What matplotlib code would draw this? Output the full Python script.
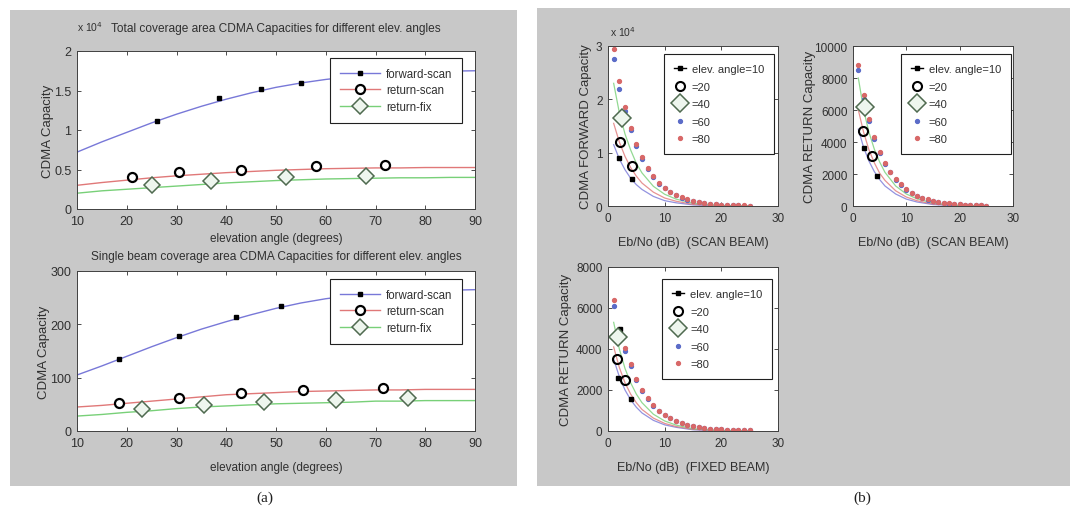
import numpy as np
import matplotlib.pyplot as plt
from matplotlib.patches import Rectangle
from matplotlib.lines import Line2D
from matplotlib.ticker import FuncFormatter

plt.rcParams['font.family'] = ['Liberation Sans', 'DejaVu Sans']

# ---- panel (a): capacity vs elevation angle ----
elev_line = [10, 15, 20, 25, 30, 35, 40, 45, 50, 55, 60, 65, 70, 75, 80, 85, 90]

tot_fwd_line = [7200, 8500, 9700, 10900, 12000, 13000, 13900, 14700, 15400, 15950, 16400, 16750, 17000, 17200, 17350, 17450, 17500]
tot_rsc_line = [3000, 3350, 3650, 3950, 4200, 4400, 4600, 4750, 4900, 5000, 5100, 5150, 5200, 5200, 5250, 5250, 5250]
tot_rfx_line = [2000, 2300, 2500, 2700, 2900, 3100, 3300, 3450, 3600, 3700, 3800, 3850, 3900, 3950, 3950, 4000, 4000]
tot_fwd_mk_x = [26, 38.5, 47, 55]
tot_fwd_mk_y = [11200, 14000, 15200, 16000]
tot_rsc_mk_x = [21, 30.5, 43, 58, 72]
tot_rsc_mk_y = [4000, 4700, 4900, 5400, 5600]
tot_rfx_mk_x = [25, 37, 52, 68]
tot_rfx_mk_y = [3000, 3500, 4000, 4200]

one_fwd_line = [105, 122, 140, 158, 175, 191, 205, 218, 230, 240, 248, 254, 258, 261, 263, 264, 265]
one_rsc_line = [45, 48, 52, 56, 60, 64, 68, 70, 72, 74, 75, 76, 77, 77, 78, 78, 78]
one_rfx_line = [28, 31, 35, 38, 42, 45, 47, 49, 51, 52, 53, 54, 56, 56, 57, 57, 57]
one_fwd_mk_x = [18.5, 30.5, 42, 51]
one_fwd_mk_y = [135, 178, 213, 234]
one_rsc_mk_x = [18.5, 30.5, 43, 55.5, 71.5]
one_rsc_mk_y = [52, 62, 72, 76, 80]
one_rfx_mk_x = [23, 35.5, 47.5, 62, 76.5]
one_rfx_mk_y = [42, 48, 55, 58, 62]

labels_a = ['forward-scan', 'return-scan', 'return-fix']

# ---- panel (b): capacity vs Eb/No ----
ebno = [1, 2, 3, 4, 5, 6, 7, 8, 9, 10, 11, 12, 13, 14, 15, 16, 17, 18, 19, 20, 21, 22, 23, 24, 25]
ebno_line = [1, 2, 3, 4, 5, 6, 8, 10, 12, 15, 20, 25]

fwd_e60 = [27500, 22000, 17800, 14200, 11200, 8800, 6900, 5400, 4200, 3300, 2600, 2000, 1500, 1200, 900, 700, 550, 400, 300, 250, 200, 150, 100, 80, 60]
fwd_e80 = [29500, 23500, 18500, 14700, 11600, 9100, 7100, 5600, 4400, 3400, 2700, 2100, 1600, 1300, 1000, 750, 600, 450, 350, 280, 220, 170, 130, 100, 80]
fwd_l40 = [23000, 17500, 13500, 10500, 8000, 6200, 3700, 2200, 1300, 500, 100, 0]
fwd_l20 = [15500, 12000, 9300, 7200, 5600, 4300, 2600, 1500, 900, 300, 50, 0]
fwd_l10 = [11500, 8800, 6800, 5200, 4000, 3100, 1800, 1000, 600, 200, 0, 0]
fwd_e10_x = [2, 4.2]
fwd_e10_y = [9000, 5000]
fwd_e20_x = [2.2, 4.2]
fwd_e20_y = [12000, 7500]
fwd_e40_x = [2.5]
fwd_e40_y = [16500]

rsc_e60 = [8500, 6700, 5300, 4200, 3300, 2600, 2100, 1650, 1300, 1000, 800, 630, 500, 400, 310, 240, 190, 150, 115, 95, 75, 60, 48, 38, 30]
rsc_e80 = [8800, 6950, 5450, 4300, 3400, 2700, 2150, 1700, 1350, 1050, 830, 650, 520, 410, 320, 250, 200, 160, 120, 100, 80, 60, 50, 40, 30]
rsc_l40 = [8000, 6000, 4600, 3550, 2750, 2100, 1250, 750, 450, 180, 30, 0]
rsc_l20 = [6000, 4600, 3500, 2700, 2050, 1600, 950, 560, 330, 120, 20, 0]
rsc_l10 = [4800, 3650, 2800, 2150, 1650, 1250, 750, 430, 250, 90, 10, 0]
rsc_e10_x = [2, 4.5]
rsc_e10_y = [3600, 1900]
rsc_e20_x = [1.8, 3.6]
rsc_e20_y = [4700, 3100]
rsc_e40_x = [2.2]
rsc_e40_y = [6200]

rfx_e60 = [6100, 4800, 3900, 3150, 2480, 1950, 1560, 1220, 980, 780, 610, 480, 380, 300, 240, 190, 150, 120, 95, 75, 60, 48, 38, 30, 25]
rfx_e80 = [6400, 5000, 4050, 3250, 2550, 2000, 1600, 1250, 1000, 800, 620, 490, 390, 300, 240, 190, 150, 120, 95, 75, 60, 48, 38, 30, 25]
rfx_l40 = [5300, 4000, 3050, 2350, 1800, 1380, 820, 490, 290, 110, 15, 0]
rfx_l20 = [4100, 3100, 2350, 1800, 1380, 1050, 630, 370, 220, 80, 10, 0]
rfx_l10 = [3500, 2650, 2000, 1520, 1160, 880, 520, 300, 180, 60, 5, 0]
rfx_e10_x = [1.8, 2.1, 4]
rfx_e10_y = [2600, 5000, 1550]
rfx_e20_x = [1.5, 3]
rfx_e20_y = [3500, 2500]
rfx_e40_x = [1.8]
rfx_e40_y = [4600]

labels_b = ['elev. angle=10', '=20', '=40', '=60', '=80']

BLUE = '#7878d8'
RED = '#e07878'
GREEN = '#78d078'
DIA_EDGE = '#4f6a50'
DIA_FACE = '#eef6ee'
GRAY = '#c8c8c8'
TXT = '#303030'

fig = plt.figure(figsize=(10.7, 5.1), dpi=100)
fig.patch.set_facecolor('white')

W, H = 1070.0, 510.0
def box(x0, y0, x1, y1):
    return [x0 / W, 1 - y1 / H, (x1 - x0) / W, (y1 - y0) / H]

fig.add_artist(Rectangle((10 / W, 1 - 487 / H), 507 / W, 476 / H,
                         transform=fig.transFigure, facecolor=GRAY, edgecolor='none', zorder=0))
fig.add_artist(Rectangle((537 / W, 1 - 487 / H), 533 / W, 478 / H,
                         transform=fig.transFigure, facecolor=GRAY, edgecolor='none', zorder=0))


def style(ax, size):
    ax.set_facecolor('white')
    ax.tick_params(direction='in', length=3, width=0.6, top=True, right=True,
                   labelsize=size, colors=TXT)
    ax.tick_params(axis='x', pad=4)
    ax.tick_params(axis='y', pad=4)
    for s in ax.spines.values():
        s.set_linewidth(0.7)
        s.set_color('#404040')


def finish_legend(leg):
    leg.get_frame().set_linewidth(0.8)
    for t in leg.get_texts():
        t.set_color(TXT)


def panel_a(ax, fwd, rsc, rfx, fwd_mk, rsc_mk, rfx_mk, ylim, yticks, title, title_y, xpad, leg_anchor, scale):
    style(ax, 9)
    ax.plot(elev_line, fwd, color=BLUE, lw=1)
    ax.plot(elev_line, rsc, color=RED, lw=1)
    ax.plot(elev_line, rfx, color=GREEN, lw=1)
    ax.plot(*fwd_mk, ls='none', marker='s', ms=3.5, mfc='k', mec='k')
    ax.plot(*rsc_mk, ls='none', marker='o', ms=6.5, mfc='white', mec='k', mew=1.6)
    ax.plot(*rfx_mk, ls='none', marker='D', ms=8, mfc=DIA_FACE, mec=DIA_EDGE, mew=1.1)
    ax.set_xlim(10, 90)
    ax.set_ylim(*ylim)
    ax.set_xticks([10, 20, 30, 40, 50, 60, 70, 80, 90])
    ax.set_yticks(yticks)
    if scale:
        ax.yaxis.set_major_formatter(FuncFormatter(lambda v, p: f'{v / scale:g}'))
        ax.text(0.0, 1.125, r'x 10$^4$', transform=ax.transAxes, fontsize=7.5, color=TXT)
    ax.set_title(title, fontsize=8.6, color=TXT, y=title_y)
    ax.set_xlabel('elevation angle (degrees)', fontsize=8.5, color=TXT, labelpad=xpad)
    ax.set_ylabel('CDMA Capacity', fontsize=9.5, color=TXT, labelpad=0.5)
    handles = [
        Line2D([], [], color=BLUE, lw=1, marker='s', ms=3.5, mfc='k', mec='k'),
        Line2D([], [], color=RED, lw=1, marker='o', ms=6.5, mfc='white', mec='k', mew=1.6),
        Line2D([], [], color=GREEN, lw=1, marker='D', ms=8, mfc=DIA_FACE, mec=DIA_EDGE, mew=1.1),
    ]
    leg = ax.legend(handles, labels_a, loc='upper left', bbox_to_anchor=leg_anchor, borderaxespad=0,
                    fontsize=8.3, handlelength=3.5, handletextpad=0.5, labelspacing=0.4,
                    borderpad=0.85, fancybox=False, framealpha=1, edgecolor='#202020')
    finish_legend(leg)


ax1 = fig.add_axes(box(77, 52, 475, 210))
panel_a(ax1, tot_fwd_line, tot_rsc_line, tot_rfx_line,
        (tot_fwd_mk_x, tot_fwd_mk_y), (tot_rsc_mk_x, tot_rsc_mk_y), (tot_rfx_mk_x, tot_rfx_mk_y),
        (0, 20000), [0, 5000, 10000, 15000, 20000],
        'Total coverage area CDMA Capacities for different elev. angles', 1.075, 4, (0.636, 0.956), 1e4)

ax2 = fig.add_axes(box(77, 272, 475, 432))
panel_a(ax2, one_fwd_line, one_rsc_line, one_rfx_line,
        (one_fwd_mk_x, one_fwd_mk_y), (one_rsc_mk_x, one_rsc_mk_y), (one_rfx_mk_x, one_rfx_mk_y),
        (0, 300), [0, 100, 200, 300],
        'Single beam coverage area CDMA Capacities for different elev. angles', 1.025, 9, (0.636, 0.95), None)


def panel_b(ax, e60, e80, l40, l20, l10, e10, e20, e40, ylim, yticks, ylabel, xlabel, xpad, ypad, leg_anchor, scale):
    style(ax, 8.5)
    ax.plot(ebno_line, l10, color=BLUE, lw=0.9, alpha=0.8)
    ax.plot(ebno_line, l20, color=RED, lw=0.9, alpha=0.8)
    ax.plot(ebno_line, l40, color=GREEN, lw=0.9, alpha=0.8)
    ax.plot(ebno, e60, ls='none', marker='o', ms=2.8, mfc='#5b6cc8', mec='#5b6cc8')
    ax.plot(ebno, e80, ls='none', marker='o', ms=2.8, mfc='#d86868', mec='#d86868')
    ax.plot(*e10, ls='none', marker='s', ms=3.5, mfc='k', mec='k')
    ax.plot(*e20, ls='none', marker='o', ms=6.5, mfc='none', mec='k', mew=1.5)
    ax.plot(*e40, ls='none', marker='D', ms=9, mfc=DIA_FACE, mec=DIA_EDGE, mew=1.1)
    ax.set_xlim(0, 30)
    ax.set_ylim(*ylim)
    ax.set_xticks([0, 10, 20, 30])
    ax.set_yticks(yticks)
    if scale:
        ax.yaxis.set_major_formatter(FuncFormatter(lambda v, p: f'{v / scale:g}'))
        ax.text(0.01, 1.06, r'x 10$^4$', transform=ax.transAxes, fontsize=7.5, color=TXT)
    ax.set_xlabel(xlabel, fontsize=9, color=TXT, labelpad=xpad)
    ax.set_ylabel(ylabel, fontsize=9.5, color=TXT, labelpad=ypad)
    handles = [
        Line2D([], [], color='k', lw=1, marker='s', ms=3.5, mfc='k', mec='k'),
        Line2D([], [], ls='none', marker='o', ms=6.5, mfc='none', mec='k', mew=1.5),
        Line2D([], [], ls='none', marker='D', ms=9, mfc=DIA_FACE, mec=DIA_EDGE, mew=1.1),
        Line2D([], [], ls='none', marker='o', ms=2.8, mfc='#5b6cc8', mec='#5b6cc8'),
        Line2D([], [], ls='none', marker='o', ms=2.8, mfc='#d86868', mec='#d86868'),
    ]
    leg = ax.legend(handles, labels_b, loc='upper left', bbox_to_anchor=leg_anchor, borderaxespad=0,
                    fontsize=8, handlelength=1.05, handletextpad=0.55, labelspacing=0.68,
                    borderpad=0.9, fancybox=False, framealpha=1, edgecolor='#202020')
    finish_legend(leg)


ax3 = fig.add_axes(box(608, 47, 778, 207))
panel_b(ax3, fwd_e60, fwd_e80, fwd_l40, fwd_l20, fwd_l10,
        (fwd_e10_x, fwd_e10_y), (fwd_e20_x, fwd_e20_y), (fwd_e40_x, fwd_e40_y),
        (0, 30000), [0, 10000, 20000, 30000],
        'CDMA FORWARD Capacity', 'Eb/No (dB)  (SCAN BEAM)', 9, 3, (0.33, 0.95), 1e4)

ax4 = fig.add_axes(box(853, 47, 1013, 207))
panel_b(ax4, rsc_e60, rsc_e80, rsc_l40, rsc_l20, rsc_l10,
        (rsc_e10_x, rsc_e10_y), (rsc_e20_x, rsc_e20_y), (rsc_e40_x, rsc_e40_y),
        (0, 10000), [0, 2000, 4000, 6000, 8000, 10000],
        'CDMA RETURN Capacity', 'Eb/No (dB)  (SCAN BEAM)', 9, -1, (0.3, 0.95), None)

ax5 = fig.add_axes(box(608, 268, 778, 432))
panel_b(ax5, rfx_e60, rfx_e80, rfx_l40, rfx_l20, rfx_l10,
        (rfx_e10_x, rfx_e10_y), (rfx_e20_x, rfx_e20_y), (rfx_e40_x, rfx_e40_y),
        (0, 8000), [0, 2000, 4000, 6000, 8000],
        'CDMA RETURN Capacity', 'Eb/No (dB)  (FIXED BEAM)', 9, 3, (0.32, 0.927), None)

fig.text(265 / W, 1 - 498 / H, '(a)', ha='center', va='center', fontsize=11,
         family='Liberation Serif', color='#202020')
fig.text(862 / W, 1 - 498 / H, '(b)', ha='center', va='center', fontsize=11,
         family='Liberation Serif', color='#202020')

fig.savefig('out.png', dpi=100, facecolor='white')
